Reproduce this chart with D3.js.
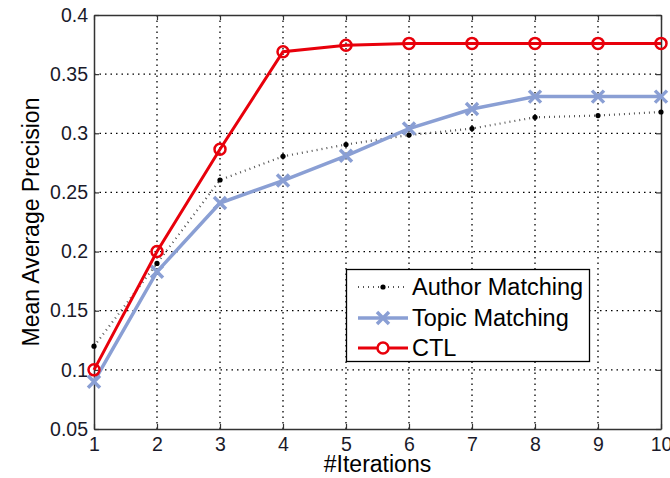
<!DOCTYPE html>
<html>
<head>
<meta charset="utf-8">
<script src="https://cdn.jsdelivr.net/npm/d3@7"></script>
<style>
  body { margin: 0; background: #fff; }
  svg { font-family: Arial, "Liberation Sans", sans-serif; }
</style>
</head>
<body>
<div id="chart"></div>
<script>
// datos
var iterations = [1, 2, 3, 4, 5, 6, 7, 8, 9, 10];
var authorMatching = [0.12, 0.19, 0.2605, 0.2805, 0.2905, 0.2985, 0.304, 0.3135, 0.315, 0.318];
var topicMatching = [0.09, 0.183, 0.241, 0.26, 0.281, 0.304, 0.3205, 0.331, 0.331, 0.331];
var ctl = [0.1, 0.2, 0.2865, 0.369, 0.3745, 0.376, 0.376, 0.376, 0.376, 0.376];
var yTicks = [0.05, 0.1, 0.15, 0.2, 0.25, 0.3, 0.35, 0.4];
var seriesNames = ['Author Matching', 'Topic Matching', 'CTL'];

var width = 670;
var height = 478;
var margin = {top: 15, right: 9, bottom: 49, left: 94};

var svg = d3.select('#chart')
    .append('svg')
    .attr('width', width)
    .attr('height', height);

var x = d3.scaleLinear()
    .domain([1, 10])
    .range([margin.left, width - margin.right]);

var y = d3.scaleLinear()
    .domain([0.05, 0.4])
    .range([height - margin.bottom, margin.top]);

// rejilla punteada
var grid = svg.append('g');
grid.selectAll('line.vx')
    .data(iterations.slice(1, -1))
    .enter()
    .append('line')
    .attr('x1', (d) => x(d)).attr('x2', (d) => x(d))
    .attr('y1', y(0.05)).attr('y2', y(0.4))
    .attr('stroke', '#000')
    .attr('stroke-width', 1.3)
    .attr('stroke-dasharray', '1.5,4');
grid.selectAll('line.hy')
    .data(yTicks.slice(1, -1))
    .enter()
    .append('line')
    .attr('x1', x(1)).attr('x2', x(10))
    .attr('y1', (d) => y(d)).attr('y2', (d) => y(d))
    .attr('stroke', '#000')
    .attr('stroke-width', 1.3)
    .attr('stroke-dasharray', '1.5,4');

// ejes (estilo matlab, ticks hacia dentro)
var xAxis = svg.append('g')
    .attr('transform', 'translate(0,' + y(0.05) + ')')
    .call(d3.axisBottom(x).tickValues(iterations).tickSizeInner(-5).tickSizeOuter(0).tickPadding(8).tickFormat(d3.format('d')));
var yAxis = svg.append('g')
    .attr('transform', 'translate(' + x(1) + ',0)')
    .call(d3.axisLeft(y).tickValues(yTicks).tickSizeInner(-5).tickSizeOuter(0).tickPadding(6).tickFormat((d) => +d.toFixed(2)));

svg.append('g')
    .attr('transform', 'translate(0,' + y(0.4) + ')')
    .call(d3.axisTop(x).tickValues(iterations).tickSizeInner(-5).tickSizeOuter(0).tickFormat(''));
svg.append('g')
    .attr('transform', 'translate(' + x(10) + ',0)')
    .call(d3.axisRight(y).tickValues(yTicks).tickSizeInner(-5).tickSizeOuter(0).tickFormat(''));

svg.selectAll('.domain').attr('stroke', '#333').attr('stroke-width', 1.5);
svg.selectAll('.tick line').attr('stroke', '#333').attr('stroke-width', 1.2);
svg.selectAll('.tick text').attr('font-size', 19.5).attr('fill', '#1a1a2a')
    .attr('font-family', 'Arial, "Liberation Sans", sans-serif');

// etiquetas de ejes
svg.append('text')
    .attr('x', (x(1) + x(10)) / 2)
    .attr('y', 472)
    .attr('text-anchor', 'middle')
    .attr('font-size', 23)
    .text('#Iterations');
svg.append('text')
    .attr('transform', 'translate(39,' + ((y(0.05) + y(0.4)) / 2) + ') rotate(-90)')
    .attr('text-anchor', 'middle')
    .attr('font-size', 23)
    .text('Mean Average Precision');

var line = d3.line()
    .x((d, i) => x(iterations[i]))
    .y((d) => y(d));

// Author Matching
svg.append('path')
    .datum(authorMatching)
    .attr('d', line)
    .attr('fill', 'none')
    .attr('stroke', '#555')
    .attr('stroke-width', 2.2)
    .attr('stroke-dasharray', '1,4');
svg.selectAll('circle.author')
    .data(authorMatching)
    .enter()
    .append('circle')
    .attr('cx', (d, i) => x(iterations[i]))
    .attr('cy', (d) => y(d))
    .attr('r', 2.6)
    .attr('fill', '#000');

// Topic Matching
svg.append('path')
    .datum(topicMatching)
    .attr('d', line)
    .attr('fill', 'none')
    .attr('stroke', '#8a9fd4')
    .attr('stroke-width', 3.5);
var xMark = 'M-6,-6L6,6M-6,6L6,-6';
svg.selectAll('path.topic')
    .data(topicMatching)
    .enter()
    .append('path')
    .attr('transform', (d, i) => 'translate(' + x(iterations[i]) + ',' + y(d) + ')')
    .attr('d', xMark)
    .attr('stroke', '#8a9fd4')
    .attr('stroke-width', 3.5);

// CTL
svg.append('path')
    .datum(ctl)
    .attr('d', line)
    .attr('fill', 'none')
    .attr('stroke', '#e8000b')
    .attr('stroke-width', 3);
svg.selectAll('circle.ctl')
    .data(ctl)
    .enter()
    .append('circle')
    .attr('cx', (d, i) => x(iterations[i]))
    .attr('cy', (d) => y(d))
    .attr('r', 5.5)
    .attr('fill', 'none')
    .attr('stroke', '#e8000b')
    .attr('stroke-width', 2.5);

// leyenda
var legend = svg.append('g');
legend.append('rect')
    .attr('x', 346.5).attr('y', 269.5)
    .attr('width', 243).attr('height', 92)
    .attr('fill', '#fff')
    .attr('stroke', '#000')
    .attr('stroke-width', 1.3);

var rowY = [287, 318, 348];
var l0 = 358, l1 = 408;

legend.append('line')
    .attr('x1', l0).attr('x2', l1).attr('y1', rowY[0]).attr('y2', rowY[0])
    .attr('stroke', '#555').attr('stroke-width', 2.2).attr('stroke-dasharray', '1,4');
legend.append('circle').attr('cx', (l0 + l1) / 2).attr('cy', rowY[0]).attr('r', 2.6).attr('fill', '#000');

legend.append('line')
    .attr('x1', l0).attr('x2', l1).attr('y1', rowY[1]).attr('y2', rowY[1])
    .attr('stroke', '#8a9fd4').attr('stroke-width', 3.5);
legend.append('path')
    .attr('transform', 'translate(' + ((l0 + l1) / 2) + ',' + rowY[1] + ')')
    .attr('d', xMark).attr('stroke', '#8a9fd4').attr('stroke-width', 3.5);

legend.append('line')
    .attr('x1', l0).attr('x2', l1).attr('y1', rowY[2]).attr('y2', rowY[2])
    .attr('stroke', '#e8000b').attr('stroke-width', 3);
legend.append('circle').attr('cx', (l0 + l1) / 2).attr('cy', rowY[2]).attr('r', 5.5)
    .attr('fill', '#fff').attr('stroke', '#e8000b').attr('stroke-width', 2.5);

legend.selectAll('text')
    .data(seriesNames)
    .enter()
    .append('text')
    .attr('x', 412)
    .attr('y', (d, i) => rowY[i])
    .attr('dy', '0.36em')
    .attr('font-size', 23.5)
    .attr('fill', '#000')
    .text((d) => d);
</script>
</body>
</html>
